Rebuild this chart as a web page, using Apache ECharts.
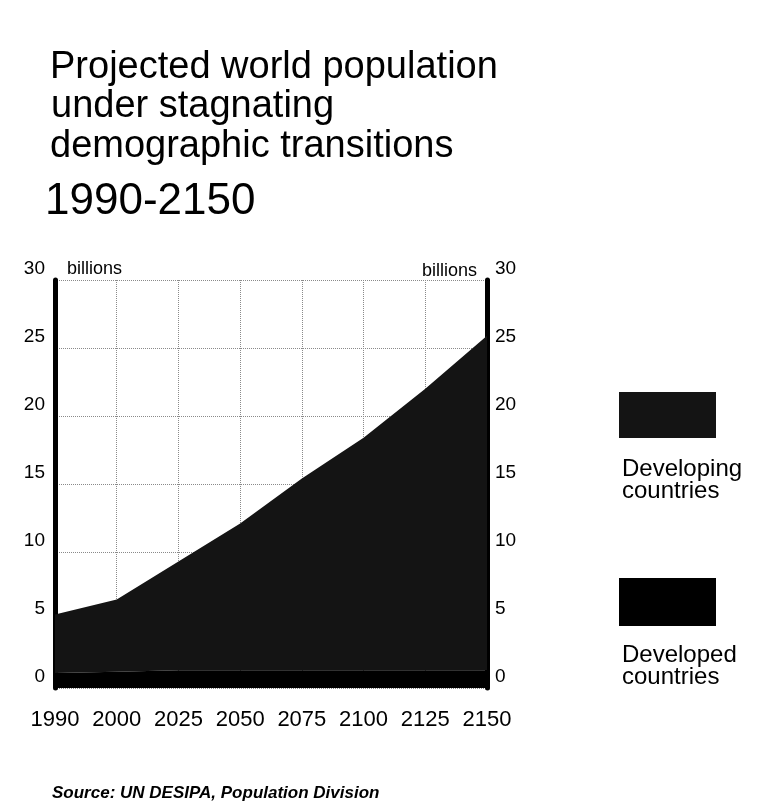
<!DOCTYPE html>
<html>
<head>
<meta charset="utf-8">
<script src="https://cdn.jsdelivr.net/npm/echarts@6/dist/echarts.min.js"></script>
<style>
html,body{margin:0;padding:0;background:#fff;}
#chart{width:759px;height:811px;}
</style>
</head>
<body>
<div id="chart"></div>
<script>
var years = ['1990', '2000', '2025', '2050', '2075', '2100', '2125', '2150'];
var developed = [1.1, 1.2, 1.3, 1.3, 1.3, 1.3, 1.3, 1.3];
var developing = [4.3, 5.3, 8.0, 10.8, 14.1, 17.1, 20.7, 24.6];
var yTicks = [0, 5, 10, 15, 20, 25, 30];

var FONT = '"Liberation Sans", Arial, Helvetica, sans-serif';
var chart = echarts.init(document.getElementById('chart'), null, {renderer: 'canvas'});

var yLabel = {
  fontFamily: FONT, fontSize: 19, color: '#000',
  verticalAlign: 'bottom', lineHeight: 22
};

chart.setOption({
  backgroundColor: '#ffffff',
  animation: false,
  grid: {left: 55, right: 272, top: 280, bottom: 123, containLabel: false},
  xAxis: {
    type: 'category',
    data: years,
    boundaryGap: false,
    axisLine: {show: false},
    axisTick: {show: false},
    axisLabel: {
      fontFamily: FONT, fontSize: 22, color: '#000', margin: 21, lineHeight: 22,
      interval: 0
    },
    splitLine: {show: true, lineStyle: {color: '#8a8a8a', type: 'dotted', width: 1}}
  },
  yAxis: [
    {
      type: 'value', position: 'left', min: 0, max: 30, interval: 5,
      axisLine: {show: true, lineStyle: {color: '#000', width: 5}},
      axisTick: {show: false},
      axisLabel: Object.assign({margin: 10, formatter: function (v) { return yTicks.indexOf(v) >= 0 ? String(v) : ''; }}, yLabel),
      splitLine: {show: true, lineStyle: {color: '#8a8a8a', type: 'dotted', width: 1}}
    },
    {
      type: 'value', position: 'right', min: 0, max: 30, interval: 5,
      axisLine: {show: true, lineStyle: {color: '#000', width: 5}},
      axisTick: {show: false},
      axisLabel: Object.assign({margin: 8, formatter: function (v) { return yTicks.indexOf(v) >= 0 ? String(v) : ''; }}, yLabel),
      splitLine: {show: false}
    }
  ],
  series: [
    {
      name: 'Developed countries',
      type: 'line', stack: 'total', data: developed,
      symbol: 'none', lineStyle: {width: 0},
      areaStyle: {color: '#000000', opacity: 1},
      z: 3
    },
    {
      name: 'Developing countries',
      type: 'line', stack: 'total', data: developing,
      symbol: 'none', lineStyle: {width: 0},
      areaStyle: {color: '#141414', opacity: 1},
      z: 2
    }
  ],
  graphic: [
    {type: 'text', style: {text: 'Projected world population', x: 50, y: 68, font: '38px ' + FONT, fill: '#000', verticalAlign: 'middle'}},
    {type: 'text', style: {text: 'under stagnating', x: 51, y: 107, font: '38px ' + FONT, fill: '#000', verticalAlign: 'middle'}},
    {type: 'text', style: {text: 'demographic transitions', x: 50, y: 147, font: '38px ' + FONT, fill: '#000', verticalAlign: 'middle'}},
    {type: 'text', style: {text: '1990-2150', x: 45, y: 202, font: '44px ' + FONT, fill: '#000', verticalAlign: 'middle'}},
    {type: 'text', style: {text: 'billions', x: 67, y: 269, font: '18px ' + FONT, fill: '#000', verticalAlign: 'middle'}},
    {type: 'text', style: {text: 'billions', x: 477, y: 271, font: '18px ' + FONT, fill: '#000', align: 'right', verticalAlign: 'middle'}},
    {type: 'rect', shape: {x: 619, y: 392, width: 97, height: 46}, style: {fill: '#141414'}},
    {type: 'text', style: {text: 'Developing', x: 622, y: 469, font: '24px ' + FONT, fill: '#000', verticalAlign: 'middle'}},
    {type: 'text', style: {text: 'countries', x: 622, y: 491, font: '24px ' + FONT, fill: '#000', verticalAlign: 'middle'}},
    {type: 'rect', shape: {x: 619, y: 578, width: 97, height: 48}, style: {fill: '#000000'}},
    {type: 'text', style: {text: 'Developed', x: 622, y: 655, font: '24px ' + FONT, fill: '#000', verticalAlign: 'middle'}},
    {type: 'text', style: {text: 'countries', x: 622, y: 677, font: '24px ' + FONT, fill: '#000', verticalAlign: 'middle'}},
    {type: 'text', style: {text: 'Source: UN DESIPA, Population Division', x: 52, y: 793, font: 'italic bold 17px ' + FONT, fill: '#000', verticalAlign: 'middle'}}
  ]
});
</script>
</body>
</html>
